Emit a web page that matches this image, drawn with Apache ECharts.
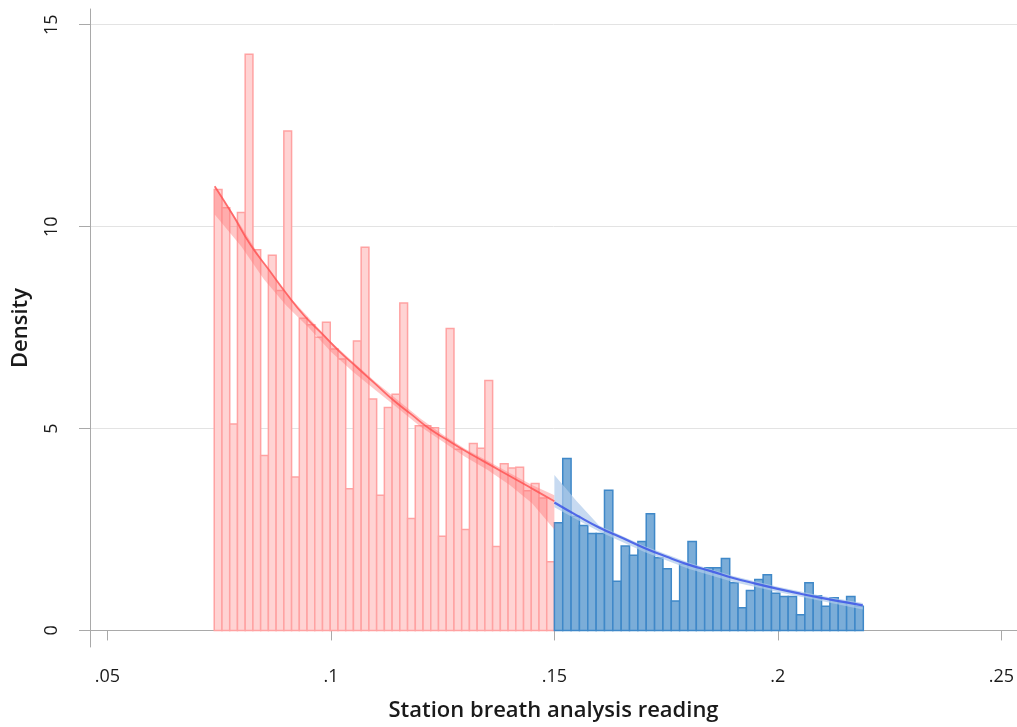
<!DOCTYPE html>
<html><head><meta charset="utf-8">
<script src="https://cdn.jsdelivr.net/npm/echarts@6/dist/echarts.min.js"></script>
<style>html,body{margin:0;padding:0;background:#fff}#c{width:1017px;height:727px}</style>
</head><body><div id="c"></div>
<script>
// ---- data ----
const redStart = 0.0739, redWidth = 0.00173;
const redHeights = [10.92, 10.47, 5.11, 10.35, 14.27, 9.43, 4.33, 9.29, 8.42, 12.37, 3.80,
  7.73, 7.57, 7.26, 7.63, 6.97, 6.72, 3.51, 7.17, 9.49, 5.73, 3.35,
  5.52, 5.85, 8.11, 2.77, 5.07, 5.07, 5.02, 2.33, 7.48, 4.49, 2.50,
  4.63, 4.51, 6.19, 2.08, 4.13, 4.02, 4.04, 3.46, 3.64, 3.28, 1.70];
const blueStart = 0.15, blueWidth = 0.001868;
const blueHeights = [2.67, 4.26, 2.83, 2.60, 2.40, 2.40, 3.47, 1.22, 2.09, 1.86, 2.20,
  2.89, 1.80, 1.53, 0.73, 1.64, 2.20, 1.53, 1.55, 1.55, 1.78,
  1.18, 0.56, 0.99, 1.26, 1.38, 0.92, 0.84, 0.84, 0.39, 1.18, 0.86, 0.60, 0.81, 0.69, 0.84, 0.60];

const redFitX = [0.074, 0.078, 0.082, 0.086, 0.090, 0.094, 0.098, 0.102, 0.106, 0.110, 0.114, 0.118, 0.122, 0.126, 0.130, 0.134, 0.138, 0.142, 0.146, 0.150];
const redFitY = [11.0, 10.3, 9.55, 8.95, 8.35, 7.8, 7.35, 6.9, 6.5, 6.1, 5.7, 5.35, 5.0, 4.72, 4.45, 4.2, 3.95, 3.7, 3.45, 3.2];
const redBandX = [0.074, 0.080, 0.085, 0.090, 0.095, 0.100, 0.105, 0.110, 0.115, 0.120, 0.125, 0.130, 0.135, 0.140, 0.145, 0.150];
const redBandHi = [11.0, 10.0, 9.1, 8.35, 7.75, 7.15, 6.65, 6.15, 5.7, 5.25, 4.85, 4.5, 4.2, 3.9, 3.6, 3.35];
const redBandLo = [10.3, 9.5, 8.7, 8.05, 7.5, 6.9, 6.4, 5.95, 5.5, 5.05, 4.68, 4.3, 3.98, 3.6, 3.15, 2.5];

const blueFitX = [0.150, 0.155, 0.160, 0.165, 0.170, 0.175, 0.180, 0.185, 0.190, 0.195, 0.200, 0.205, 0.210, 0.215, 0.219];
const blueFitY = [3.17, 2.85, 2.55, 2.3, 2.05, 1.83, 1.63, 1.47, 1.3, 1.16, 1.03, 0.91, 0.8, 0.7, 0.62];
const blueBandX = [0.150, 0.155, 0.160, 0.170, 0.180, 0.190, 0.200, 0.210, 0.219];
const blueBandHi = [3.85, 3.2, 2.6, 2.1, 1.68, 1.35, 1.08, 0.85, 0.68];
const blueBandLo = [3.05, 2.75, 2.45, 1.95, 1.53, 1.2, 0.95, 0.72, 0.52];

const xTickValues = [0.05, 0.1, 0.15, 0.2, 0.25];
const xTickLabels = ['.05', '.1', '.15', '.2', '.25'];
const yTickValues = [0, 5, 10, 15];
const yTickLabels = ['0', '5', '10', '15'];

// ---- build ----
function bins(start, w, hs) { return hs.map((h, i) => [start + i * w, start + (i + 1) * w, h]); }
function barRender(fill, stroke) {
  return function (params, api) {
    const p0 = api.coord([api.value(0), api.value(2)]);
    const p1 = api.coord([api.value(1), 0]);
    return { type: 'rect', shape: { x: p0[0], y: p0[1], width: p1[0] - p0[0], height: p1[1] - p0[1] },
      style: { fill: fill, stroke: stroke, lineWidth: 1.5 } };
  };
}
function bandRender(xs, hi, lo, fill) {
  return function (params, api) {
    const pts = [];
    for (let i = 0; i < xs.length; i++) pts.push(api.coord([xs[i], hi[i]]));
    for (let i = xs.length - 1; i >= 0; i--) pts.push(api.coord([xs[i], lo[i]]));
    return { type: 'polygon', shape: { points: pts }, style: { fill: fill } };
  };
}
const FONT = 'Open Sans';
const chart = echarts.init(document.getElementById('c'), null, { renderer: 'canvas' });
chart.setOption({
  animation: false,
  backgroundColor: '#fff',
  grid: { left: 90, right: 0, top: 9, bottom: 79, containLabel: false },
  xAxis: {
    type: 'value', min: 0.0461, max: 0.2535,
    name: 'Station breath analysis reading', nameLocation: 'middle', nameGap: 53,
    nameTextStyle: { fontFamily: FONT, fontSize: 22, fontWeight: 600, color: '#1a1a1a' },
    axisLine: { show: true, lineStyle: { color: '#a9a9a9', width: 1 } },
    axisTick: { show: true, length: 10, lineStyle: { color: '#a9a9a9' }, customValues: xTickValues },
    axisLabel: { customValues: xTickValues, margin: 21, fontFamily: FONT, fontSize: 18, color: '#1a1a1a',
      formatter: v => xTickLabels[xTickValues.findIndex(t => Math.abs(t - v) < 1e-9)] },
    splitLine: { show: false }
  },
  yAxis: {
    type: 'value', min: -0.41, max: 15.39,
    name: 'Density', nameLocation: 'middle', nameGap: 58,
    nameTextStyle: { fontFamily: FONT, fontSize: 22, fontWeight: 600, color: '#1a1a1a' },
    axisLine: { show: true, lineStyle: { color: '#a9a9a9', width: 1 } },
    axisTick: { show: true, length: 11, lineStyle: { color: '#a9a9a9' }, customValues: yTickValues },
    axisLabel: { customValues: yTickValues, rotate: 90, margin: 29, fontFamily: FONT, fontSize: 18, color: '#1a1a1a',
      formatter: v => yTickLabels[yTickValues.findIndex(t => Math.abs(t - v) < 1e-9)] },
    splitLine: { show: true, lineStyle: { color: '#e3e3e3', width: 1 } }
  },
  series: [
    { type: 'custom', data: bins(redStart, redWidth, redHeights), encode: { x: [0, 1], y: 2 },
      renderItem: barRender('#ffd3d3', '#ffa2a2'), silent: true, z: 2 },
    { type: 'custom', data: bins(blueStart, blueWidth, blueHeights), encode: { x: [0, 1], y: 2 },
      renderItem: barRender('#7badd8', '#3f88c8'), silent: true, z: 2 },
    { type: 'custom', data: [[0.11, 6]], encode: { x: 0, y: 1 },
      renderItem: bandRender(redBandX, redBandHi, redBandLo, 'rgba(255,120,120,0.42)'), silent: true, z: 3 },
    { type: 'custom', data: [[0.18, 1.5]], encode: { x: 0, y: 1 },
      renderItem: bandRender(blueBandX, blueBandHi, blueBandLo, 'rgba(175,203,235,0.7)'), silent: true, z: 3 },
    { type: 'line', data: redFitX.map((x, i) => [x, redFitY[i]]), smooth: true, showSymbol: false,
      lineStyle: { color: 'rgba(255,80,80,0.8)', width: 1.8 }, silent: true, z: 4 },
    { type: 'line', data: blueFitX.map((x, i) => [x, blueFitY[i]]), smooth: true, showSymbol: false,
      lineStyle: { color: 'rgba(60,85,230,0.85)', width: 2.2 }, silent: true, z: 4 }
  ]
});
</script>
</body></html>
